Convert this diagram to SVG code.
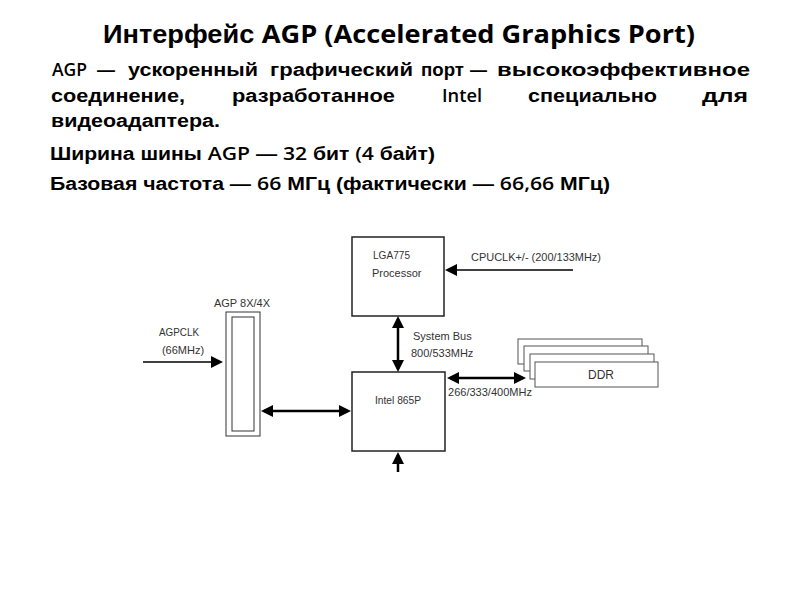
<svg xmlns="http://www.w3.org/2000/svg" width="800" height="600" viewBox="0 0 800 600">
<defs>
<style>
.cy{font-family:"Liberation Sans",Arial,sans-serif;font-weight:bold;font-size:18px;fill:#000}
.la{font-family:"Open Sans",Lato,"Liberation Sans",sans-serif;font-weight:600;font-size:18px;fill:#000}
.t{font-size:25px}
.lbl{font-family:"Liberation Sans",Arial,sans-serif;font-size:11px;fill:#333}
.box{fill:#fff;stroke:#222;stroke-width:1.5}
.ddr{fill:#fff;stroke:#555;stroke-width:1}
.slot{fill:#fff;stroke:#333;stroke-width:1}
.bus{stroke:#000;stroke-width:2.5;fill:none}
.sig{stroke:#000;stroke-width:1.5;fill:none}
</style>
<marker id="ah" viewBox="0 0 12 12" refX="9" refY="6" markerWidth="12" markerHeight="12" markerUnits="userSpaceOnUse" orient="auto-start-reverse">
<path d="M0,0 L12,6 L0,12 z" fill="#000"/>
</marker>
</defs>
<rect width="800" height="600" fill="#fff"/>

<g id="title">
<text x="103" y="43" textLength="592" lengthAdjust="spacingAndGlyphs"><tspan class="cy t">Интерфейс </tspan><tspan class="la t" style="font-weight:bold">AGP (Accelerated Graphics Port)</tspan></text>
</g>

<g id="body">
<text class="la" x="52" y="76" textLength="35" lengthAdjust="spacingAndGlyphs">AGP</text>
<text class="cy" x="97" y="76" textLength="18" lengthAdjust="spacingAndGlyphs">—</text>
<text class="cy" x="128" y="76" textLength="130" lengthAdjust="spacingAndGlyphs">ускоренный</text>
<text class="cy" x="270" y="76" textLength="143" lengthAdjust="spacingAndGlyphs">графический</text>
<text class="cy" x="421" y="76" textLength="43" lengthAdjust="spacingAndGlyphs">порт</text>
<text class="cy" x="470" y="76" textLength="17" lengthAdjust="spacingAndGlyphs">—</text>
<text class="cy" x="497" y="76" textLength="253" lengthAdjust="spacingAndGlyphs">высокоэффективное</text>

<text class="cy" x="51" y="102" textLength="134" lengthAdjust="spacingAndGlyphs">соединение,</text>
<text class="cy" x="232" y="102" textLength="163" lengthAdjust="spacingAndGlyphs">разработанное</text>
<text class="la" x="442" y="102" textLength="40" lengthAdjust="spacingAndGlyphs">Intel</text>
<text class="cy" x="528" y="102" textLength="129" lengthAdjust="spacingAndGlyphs">специально</text>
<text class="cy" x="702" y="102" textLength="46" lengthAdjust="spacingAndGlyphs">для</text>

<text class="cy" x="51" y="127" textLength="169" lengthAdjust="spacingAndGlyphs">видеоадаптера.</text>

<text x="50" y="160" textLength="385" lengthAdjust="spacingAndGlyphs"><tspan class="cy">Ширина шины </tspan><tspan class="la">AGP</tspan><tspan class="cy"> — </tspan><tspan class="la"> 32</tspan><tspan class="cy"> бит </tspan><tspan class="la">(4</tspan><tspan class="cy"> байт)</tspan></text>

<text x="50" y="190" textLength="560" lengthAdjust="spacingAndGlyphs"><tspan class="cy">Базовая частота — </tspan><tspan class="la">66</tspan><tspan class="cy"> МГц (фактически — </tspan><tspan class="la">66,66</tspan><tspan class="cy"> МГц)</tspan></text>
</g>

<g id="cpu">
<rect class="box" x="352" y="237" width="92" height="79"/>
<text class="lbl" x="373" y="259" textLength="37" lengthAdjust="spacingAndGlyphs">LGA775</text>
<text class="lbl" x="372" y="277">Processor</text>
</g>

<g id="northbridge">
<rect class="box" x="352" y="372" width="93" height="79"/>
<text class="lbl" x="375" y="404" textLength="46" lengthAdjust="spacingAndGlyphs">Intel 865P</text>
</g>

<g id="ddr">
<rect class="ddr" x="518" y="339" width="124" height="25"/>
<rect class="ddr" x="524" y="346" width="124" height="25"/>
<rect class="ddr" x="530" y="354" width="124" height="25"/>
<rect class="ddr" x="535" y="362" width="123" height="25"/>
<text class="lbl" x="601" y="379" text-anchor="middle" style="font-size:12px">DDR</text>
</g>

<g id="agp">
<rect class="slot" x="226" y="312" width="34" height="124"/>
<rect class="slot" x="232" y="317" width="22" height="114"/>
<text class="lbl" x="242" y="307" text-anchor="middle">AGP 8X/4X</text>
</g>

<g id="connectors">
<line class="bus" x1="398" y1="319" x2="398" y2="369" marker-start="url(#ah)" marker-end="url(#ah)"/>
<line class="bus" x1="398" y1="472" x2="398" y2="455" marker-end="url(#ah)"/>
<line class="sig" x1="573" y1="270" x2="448" y2="270" marker-end="url(#ah)"/>
<line class="bus" x1="450" y1="378" x2="523" y2="378" marker-start="url(#ah)" marker-end="url(#ah)"/>
<line class="sig" x1="143" y1="362" x2="220" y2="362" marker-end="url(#ah)"/>
<line class="bus" x1="264" y1="411" x2="348" y2="411" marker-start="url(#ah)" marker-end="url(#ah)"/>
</g>

<g id="labels">
<text class="lbl" x="471" y="261" textLength="130" lengthAdjust="spacingAndGlyphs">CPUCLK+/- (200/133MHz)</text>
<text class="lbl" x="413" y="340">System Bus</text>
<text class="lbl" x="411" y="357">800/533MHz</text>
<text class="lbl" x="448" y="396" textLength="84" lengthAdjust="spacingAndGlyphs">266/333/400MHz</text>
<text class="lbl" x="159" y="336" textLength="40" lengthAdjust="spacingAndGlyphs">AGPCLK</text>
<text class="lbl" x="183" y="354" text-anchor="middle">(66MHz)</text>
</g>
</svg>
